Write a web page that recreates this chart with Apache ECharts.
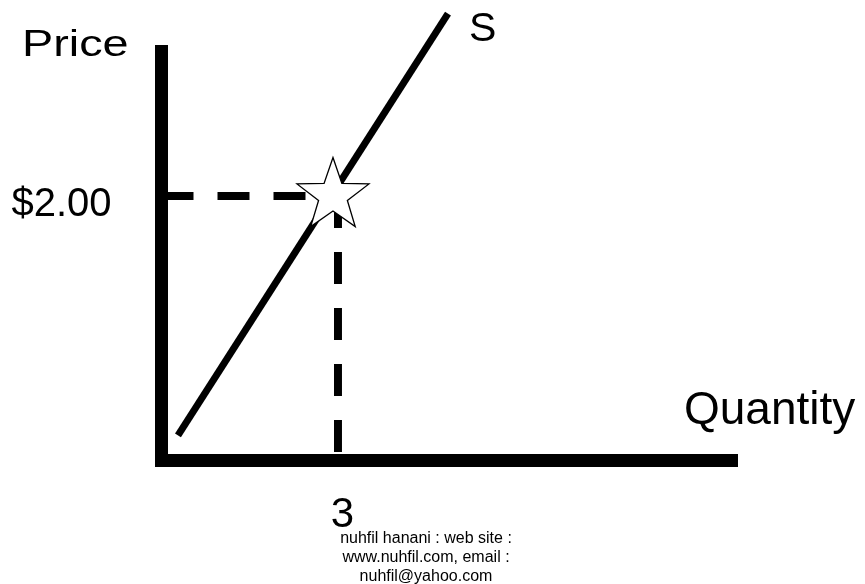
<!DOCTYPE html>
<html>
<head>
<meta charset="utf-8">
<script src="https://cdn.jsdelivr.net/npm/echarts@6/dist/echarts.min.js"></script>
<style>
  html, body { margin: 0; padding: 0; background: #fff; }
  #chart { width: 865px; height: 584px; }
</style>
</head>
<body>
<div id="chart"></div>
<script>
// supply curve S (quantity, price) - the two ends
const supplyQty = [0.28, 4.87]
const supplyPrice = [0.19, 3.38]

// the equilibrium point marked with the star
const eqQty = 3
const eqPrice = 2

// ticks shown on the axes
const qtyTicks = [3]
const priceTicks = [2]

const footerLines = ['nuhfil hanani : web site :', 'www.nuhfil.com, email :', 'nuhfil@yahoo.com']

const FONT = '"Liberation Sans", Arial, sans-serif'

// five pointed star as a path symbol
const starPath = () => {
  const pts = []
  for (let i = 0; i < 10; i++) {
    const r = i % 2 === 0 ? 1 : 0.4
    const a = -Math.PI / 2 + i * Math.PI / 5
    pts.push((r * Math.cos(a)).toFixed(4) + ' ' + (r * Math.sin(a)).toFixed(4))
  }
  return 'path://M' + pts.join(' L') + ' Z'
}

const chart = echarts.init(document.getElementById('chart'), null, { renderer: 'canvas' })

// square caps so the two axes meet in a full corner
const axisLine = { show: true, onZero: false, lineStyle: { color: '#000', width: 13, cap: 'square' } }

const option = {
  backgroundColor: '#fff',
  animation: false,
  grid: {
    left: 161.5,
    right: 133.5,
    top: 51.5,
    bottom: 123.5,
    containLabel: false,
    outerBoundsMode: 'none'
  },
  xAxis: {
    type: 'value',
    min: 0,
    max: 9.69,
    axisLine: axisLine,
    axisTick: { show: false },
    splitLine: { show: false },
    axisLabel: {
      customValues: qtyTicks,
      formatter: v => String(v),
      fontFamily: FONT,
      fontSize: 42,
      color: '#000',
      margin: 34,
      padding: [0, 0, 0, 9]
    }
  },
  yAxis: {
    type: 'value',
    min: 0,
    max: 3.093,
    axisLine: axisLine,
    axisTick: { show: false },
    splitLine: { show: false },
    axisLabel: {
      customValues: priceTicks,
      formatter: v => '$' + v.toFixed(2),
      fontFamily: FONT,
      fontSize: 40,
      color: '#000',
      margin: 50,
      verticalAlign: 'top',
      lineHeight: 18
    }
  },
  graphic: [
    {
      type: 'text', x: 22, y: 46, scaleX: 1.3,
      style: { text: 'Price', font: '36px ' + FONT, fill: '#000', textAlign: 'left', textVerticalAlign: 'middle' }
    },
    {
      type: 'text', x: 684, y: 411,
      style: { text: 'Quantity', font: '46px ' + FONT, fill: '#000', textAlign: 'left', textVerticalAlign: 'middle' }
    },
    {
      type: 'text', x: 469, y: 30,
      style: { text: 'S', font: '41px ' + FONT, fill: '#000', textAlign: 'left', textVerticalAlign: 'middle' }
    },
    {
      type: 'text', x: 426, y: 558,
      style: {
        text: footerLines.join('\n'), font: '16px ' + FONT, fill: '#000',
        textAlign: 'center', textVerticalAlign: 'middle', lineHeight: 19
      }
    }
  ],
  series: [
    {
      // dashed guide to the price axis
      type: 'line',
      data: [[0, eqPrice], [eqQty, eqPrice]],
      symbol: 'none',
      silent: true,
      z: 2,
      lineStyle: { color: '#000', width: 8, type: [32, 24] }
    },
    {
      // dashed guide to the quantity axis
      type: 'line',
      data: [[eqQty, eqPrice], [eqQty, 0]],
      symbol: 'none',
      silent: true,
      z: 2,
      lineStyle: { color: '#000', width: 8, type: [32, 24] }
    },
    {
      name: 'S',
      type: 'line',
      data: supplyQty.map((q, i) => [q, supplyPrice[i]]),
      symbol: 'none',
      silent: true,
      clip: false,
      z: 3,
      lineStyle: { color: '#000', width: 7, cap: 'butt' }
    },
    {
      type: 'scatter',
      data: [[eqQty, eqPrice]],
      symbol: starPath(),
      symbolSize: [72, 69],
      symbolOffset: [-5, -4],
      silent: true,
      z: 4,
      itemStyle: { color: '#fff', borderColor: '#000', borderWidth: 1.3, opacity: 1 }
    }
  ]
}

chart.setOption(option)
</script>
</body>
</html>
